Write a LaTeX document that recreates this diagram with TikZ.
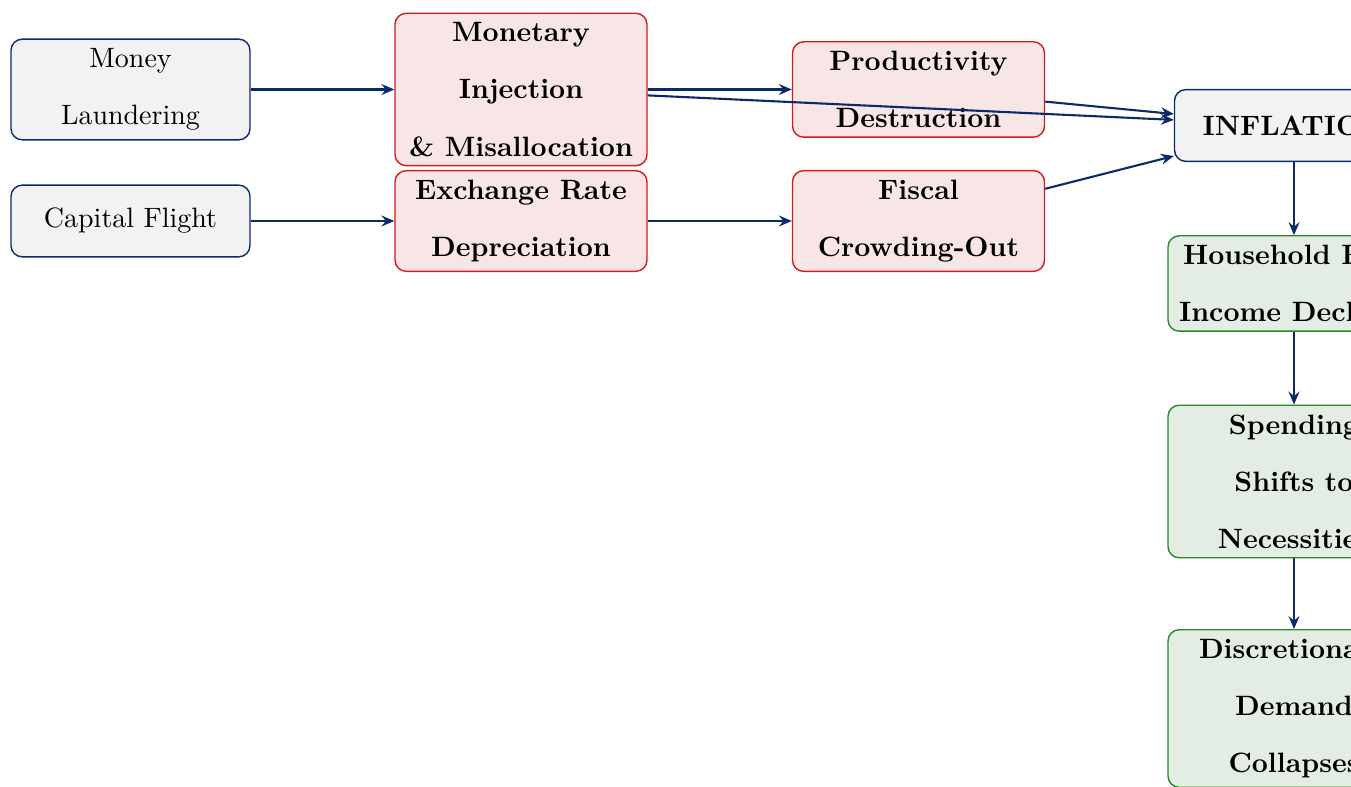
\documentclass[tikz,border=0pt]{standalone}
\usetikzlibrary{arrows.meta}
\definecolor{navy}{HTML}{0B2A6B}
\definecolor{grayfill}{HTML}{F2F2F2}
\definecolor{redline}{HTML}{D01C1C}
\definecolor{redfill}{HTML}{F8E6E6}
\definecolor{greenline}{HTML}{2C862C}
\definecolor{greenfill}{HTML}{E3EDE3}
\begin{document}
\begin{tikzpicture}[x=0.35714pt,y=-0.35714pt,
  base/.style={rounded corners=4pt, align=center, line width=0.5pt, inner sep=3.333pt},
  cause/.style={base, draw=navy, fill=grayfill, minimum width=3cm, minimum height=0.9cm,
    font={\fontsize{10}{20.4}\selectfont}},
  mech/.style={base, draw=redline, fill=redfill, minimum width=90pt,
    font={\fontsize{10}{20.4}\selectfont\bfseries}},
  core/.style={base, draw=navy, fill=grayfill, minimum width=3cm, minimum height=0.9cm,
    font={\fontsize{10}{20.4}\selectfont\bfseries}},
  effect/.style={base, draw=greenline, fill=greenfill, minimum width=90pt,
    font={\fontsize{10}{20.4}\selectfont\bfseries}},
  arr/.style={draw=navy, line width=0.75pt, -{Stealth[length=4.6pt,width=3.9pt,inset=1.6pt]}}]
\useasboundingbox (0,0) rectangle (1351,787);
\clip (0,0) rectangle (1351,787);
\node[cause] (ml) at (130.5,89.5) {Money\\Laundering};
\node[cause] (cf) at (130.5,221) {Capital Flight};
\node[mech] (mon) at (521,89.5) {Monetary\\Injection\\\& Misallocation};
\node[mech] (ex) at (521,221) {Exchange Rate\\Depreciation};
\node[mech] (prod) at (918.5,89.5) {Productivity\\Destruction};
\node[mech] (fis) at (918.5,221) {Fiscal\\Crowding-Out};
\node[core] (inf) at (1294,125.5) {INFLATION};
\node[effect] (hh) at (1294,283.5) {Household Real\\Income Declines};
\node[effect] (sp) at (1294,481.5) {Spending\\Shifts to\\Necessities};
\node[effect] (dis) at (1294,708.5) {Discretionary\\Demand\\Collapses};
\draw[arr] (ml.east) -- (mon.west);
\draw[arr] (cf.east) -- (ex.west);
\draw[arr] (mon.east) -- (prod.west);
\draw[arr] (ex.east) -- (fis.west);
\draw[arr] (mon) -- (inf);
\draw[arr] (prod) -- (inf);
\draw[arr] (fis) -- (inf);
\draw[arr] (inf.south) -- (hh.north);
\draw[arr] (hh.south) -- (sp.north);
\draw[arr] (sp.south) -- (dis.north);
\end{tikzpicture}
\end{document}
